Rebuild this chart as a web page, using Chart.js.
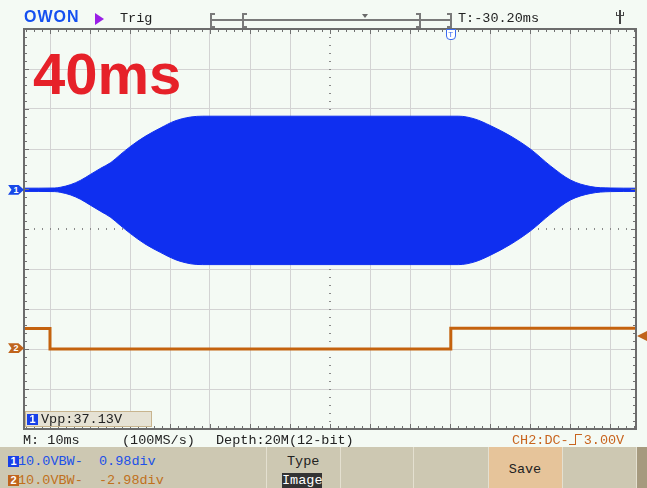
<!DOCTYPE html>
<html>
<head>
<meta charset="utf-8">
<title>Scope capture</title>
<script src="https://cdn.jsdelivr.net/npm/chart.js@4.4.0/dist/chart.umd.min.js"></script>
<style>
  body { margin: 0; background: #f4faf4; }
  #screen { position: relative; width: 647px; height: 488px; overflow: hidden; background: #f4faf4;
            font-family: "Liberation Mono", "DejaVu Sans Mono", monospace; }
  #scope { position: absolute; left: 0; top: 0; }
  .txt { position: absolute; white-space: pre; font-size: 13.5px; line-height: 14px; color: #222; }
  .big { position: absolute; left: 33px; top: 45px; font: bold 58px/58px "Liberation Sans", Arial, sans-serif; color: #e62129; }
  .logo { position: absolute; left: 24px; top: 9px; font: bold 16px/16px "Liberation Sans", Arial, sans-serif; color: #1550f0; letter-spacing: 1px; }
  .runTri { position: absolute; left: 95px; top: 13px; width: 0; height: 0;
            border-top: 6px solid transparent; border-bottom: 6px solid transparent; border-left: 9px solid #9a1ee6; }
  .tl { position: absolute; left: 211px; top: 19px; width: 240px; height: 2px; background: #7a7a7a; }
  .br { position: absolute; top: 13px; width: 3px; height: 11px; border: 2px solid #7a7a7a; }
  .br.l { border-right: none; }
  .br.r { border-left: none; }
  .pos { position: absolute; left: 362px; top: 14px; width: 0; height: 0;
         border-left: 3px solid transparent; border-right: 3px solid transparent; border-top: 4px solid #6a6a6a; }
  .usb { position: absolute; left: 619px; top: 10px; width: 2px; height: 14px; background: #444; }
  .usb::before { content: ""; position: absolute; left: -3px; top: 2px; width: 8px; height: 4px; border: 1px solid #444; border-top: none; box-sizing: border-box; }
  .trigT { position: absolute; top: 29px; width: 8px; height: 9px; background: #fff; border: 1px solid #3a6af0;
           border-radius: 0 0 4px 4px; font: 8px/9px "Liberation Sans", Arial, sans-serif; color: #3a6af0; text-align: center; }
  .mk { position: absolute; left: 8px; width: 16px; height: 10px; color: #fff;
        font: bold 9px/10px "Liberation Sans", Arial, sans-serif; text-align: center; }
  .mk1 { background: #1848e8; clip-path: polygon(0 0, 65% 0, 100% 50%, 65% 100%, 0 100%, 22% 50%); }
  .mk2 { background: #c0641c; clip-path: polygon(0 0, 65% 0, 100% 50%, 65% 100%, 0 100%, 22% 50%); }
  .trigLvl { position: absolute; left: 637px; width: 0; height: 0;
             border-top: 5px solid transparent; border-bottom: 5px solid transparent; border-right: 10px solid #c0641c; }
  .vpp { position: absolute; left: 25px; top: 411px; width: 127px; height: 16px; background: #e6e2d4;
         border: 1px solid #c8b48e; box-sizing: border-box; }
  .num { position: absolute; width: 11px; height: 11px; color: #fff; text-align: center;
         font: bold 11px/11px "Liberation Sans", Arial, sans-serif; }
  .edge { display: inline-block; position: relative; width: 15px; height: 11px; vertical-align: -1px; }
  .edge::before { content: ""; position: absolute; left: 0; bottom: 0; width: 6px; height: 0; border-bottom: 1px solid #c8641e; }
  .edge::after { content: ""; position: absolute; left: 6px; top: 0; width: 6px; height: 10px; border-left: 1px solid #c8641e; border-top: 1px solid #c8641e; }
  .panel { position: absolute; top: 447px; height: 41px; background: #cdc8b2; }
  .sep { position: absolute; top: 447px; width: 1px; height: 41px; background: #e4e0d0; }
</style>
</head>
<body>
<div id="screen">
  <canvas id="scope" width="647" height="488"></canvas>

  <div class="logo">OWON</div>
  <div class="runTri"></div>
  <div class="txt" style="left:120px; top:12px;">Trig</div>
  <div class="tl"></div>
  <div class="br l" style="left:210px;"></div>
  <div class="br l" style="left:242px;"></div>
  <div class="br r" style="left:416px;"></div>
  <div class="br r" style="left:447px;"></div>
  <div class="pos"></div>
  <div class="txt" style="left:458px; top:12px;">T:-30.20ms</div>
  <div class="usb"></div>
  <div class="trigT" id="trigT">T</div>

  <div class="big">40ms</div>

  <div class="mk mk1" id="mark1">1</div>
  <div class="mk mk2" id="mark2">2</div>
  <div class="trigLvl" id="trigLvl"></div>

  <div class="vpp"></div>
  <div class="num" style="left:27px; top:414px; background:#1840e8;">1</div>
  <div class="txt" style="left:41px; top:413px;">Vpp:37.13V</div>

  <div class="txt" style="left:23px; top:434px;">M: 10ms</div>
  <div class="txt" style="left:122px; top:434px;">(100MS/s)</div>
  <div class="txt" style="left:216px; top:434px;">Depth:20M(12-bit)</div>
  <div class="txt" style="left:512px; top:434px; color:#c8641e;">CH2:DC-<span class="edge"></span>3.00V</div>

  <div class="panel" style="left:0; width:266px;"></div>
  <div class="panel" style="left:266px; width:222px;"></div>
  <div class="panel" style="left:488px; width:74px; background:#e6c49a;"></div>
  <div class="panel" style="left:562px; width:74px;"></div>
  <div class="panel" style="left:636px; width:11px; background:#a69a7e;"></div>
  <div class="sep" style="left:266px;"></div>
  <div class="sep" style="left:340px;"></div>
  <div class="sep" style="left:413px;"></div>
  <div class="sep" style="left:488px;"></div>
  <div class="sep" style="left:562px;"></div>
  <div class="sep" style="left:636px;"></div>

  <div class="num" style="left:8px; top:456px; background:#1840e8;">1</div>
  <div class="txt" style="left:18px; top:455px; color:#2050e8;">10.0VBW-  0.98div</div>
  <div class="num" style="left:8px; top:475px; background:#c0641c;">2</div>
  <div class="txt" style="left:18px; top:474px; color:#c0701c;">10.0VBW-  -2.98div</div>

  <div class="txt" style="left:287px; top:455px;">Type</div>
  <div class="txt" style="left:282px; top:473px; width:40px; height:15px; background:#333; color:#fff; text-align:center; line-height:15px;">Image</div>
  <div class="txt" style="left:488px; top:463px; width:74px; text-align:center;">Save</div>
</div>

<script>
// timebase / channel setup
const msPerDiv = 10;
const centerTime = -30.2;          // T:-30.20ms
const halfDivs = 7.65;             // screen is 15.3 divisions wide
const voltsPerDiv = 10;
const ch1Offset = 0.98;            // divisions
const ch2Offset = -2.98;
const triggerLevel = 3.0;

// CH1 burst envelope (ms, volts)
const ch1Time  = [-107, -99, -97.5, -95, -92.5, -90, -87.5, -85, -82.5, -80, -76.5, -72.5, -69, -65, -62,
                  2, 6, 10, 15, 20, 25, 30, 35, 40, 46.5];
const ch1Upper = [0.4, 0.45, 0.65, 1.3, 2.4, 3.9, 5.4, 6.8, 8.9, 10.9, 13.3, 15.5, 17.2, 18.2, 18.4,
                  18.4, 17.7, 16.0, 13.4, 10.1, 5.9, 2.4, 0.8, 0.45, 0.4];
const ch1Lower = [-0.4, -0.45, -0.65, -1.3, -2.4, -3.9, -5.4, -6.9, -9.0, -11.0, -13.5, -15.7, -17.4, -18.5, -18.7,
                  -18.7, -18.0, -16.3, -13.6, -10.2, -6.0, -2.5, -0.9, -0.45, -0.4];

// CH2 gate signal (ms, volts), edges as repeated times
const ch2Time  = [-107, -100.2, -100.2, 0, 0, 46.5];
const ch2Volts = [4.9, 4.9, -0.2, -0.2, 5.0, 5.0];

const xMin = centerTime - halfDivs * msPerDiv;
const xMax = centerTime + halfDivs * msPerDiv;

const pts = (xs, ys) => xs.map((x, i) => ({ x: x, y: ys[i] }));
const blue = '#0f2ff0';
const orange = '#c4620e';

const scopeFrame = {
  id: 'scopeFrame',
  beforeDatasetsDraw(chart) {
    // dotted center cross
    const { ctx, chartArea: a, scales } = chart;
    const cx = Math.round(scales.x.getPixelForValue(centerTime));
    const cy = Math.round(scales.y.getPixelForValue(0));
    const step = (scales.y.getPixelForValue(0) - scales.y.getPixelForValue(1)) / 5;
    ctx.save();
    ctx.fillStyle = '#8a8a8a';
    for (let i = -40; i <= 40; i++) {
      const y = Math.round(cy + i * step);
      if (y > a.top + 3 && y < a.bottom - 3) ctx.fillRect(cx - 1, y, 2, 1);
      const x = Math.round(cx + i * step);
      if (x > a.left + 3 && x < a.right - 3) ctx.fillRect(x, cy - 1, 1, 2);
    }
    ctx.restore();
  },
  afterDatasetsDraw(chart) {
    // outer frame with ruler ticks every 1/5 division
    const { ctx, chartArea: a, scales } = chart;
    const cx = scales.x.getPixelForValue(centerTime);
    const cy = scales.y.getPixelForValue(0);
    const step = (scales.y.getPixelForValue(0) - scales.y.getPixelForValue(1)) / 5;
    ctx.save();
    ctx.fillStyle = '#707070';
    for (let i = -40; i <= 40; i++) {
      const len = i % 5 === 0 ? 5 : 3;
      const x = Math.round(cx + i * step);
      if (x > a.left + 1 && x < a.right - 1) {
        ctx.fillRect(x, a.top, 1, len);
        ctx.fillRect(x, a.bottom - len, 1, len);
      }
      const y = Math.round(cy + i * step);
      if (y > a.top + 1 && y < a.bottom - 1) {
        ctx.fillRect(a.left, y, len, 1);
        ctx.fillRect(a.right - len, y, len, 1);
      }
    }
    ctx.strokeStyle = '#6c6c6c';
    ctx.lineWidth = 2;
    ctx.strokeRect(a.left, a.top, a.right - a.left, a.bottom - a.top);
    ctx.restore();
  },
  afterRender(chart) {
    const s = chart.scales;
    document.getElementById('mark1').style.top = (s.y1.getPixelForValue(0) - 5) + 'px';
    document.getElementById('mark2').style.top = (s.y2.getPixelForValue(0) - 5) + 'px';
    document.getElementById('trigLvl').style.top = (s.y2.getPixelForValue(triggerLevel) - 5) + 'px';
    document.getElementById('trigT').style.left = (s.x.getPixelForValue(0) - 5) + 'px';
  }
};

new Chart(document.getElementById('scope'), {
  type: 'line',
  data: {
    datasets: [
      {
        label: 'CH1 upper',
        data: pts(ch1Time, ch1Upper),
        yAxisID: 'y1',
        borderColor: blue,
        backgroundColor: blue,
        borderWidth: 1,
        pointRadius: 0,
        cubicInterpolationMode: 'monotone',
        fill: '+1'
      },
      {
        label: 'CH1 lower',
        data: pts(ch1Time, ch1Lower),
        yAxisID: 'y1',
        borderColor: blue,
        borderWidth: 1,
        pointRadius: 0,
        cubicInterpolationMode: 'monotone',
        fill: false
      },
      {
        label: 'CH2',
        data: pts(ch2Time, ch2Volts),
        yAxisID: 'y2',
        borderColor: orange,
        borderWidth: 3,
        pointRadius: 0,
        fill: false
      }
    ]
  },
  options: {
    responsive: false,
    animation: false,
    devicePixelRatio: 1,
    layout: { padding: { left: 24, top: 29, right: 11, bottom: 59 } },
    plugins: { legend: { display: false }, tooltip: { enabled: false } },
    scales: {
      x: {
        type: 'linear',
        min: xMin,
        max: xMax,
        afterBuildTicks: scale => {
          const ticks = [];
          for (let k = -8; k <= 8; k++) {
            const v = centerTime + k * msPerDiv;
            if (v > xMin && v < xMax) ticks.push({ value: v });
          }
          scale.ticks = ticks;
        },
        ticks: { display: false },
        grid: {
          drawTicks: false,
          lineWidth: 1,
          color: c => Math.abs(c.tick.value - centerTime) < 0.01 ? 'rgba(0,0,0,0)' : '#d3d3d3'
        },
        border: { display: false }
      },
      y: {
        min: -5,
        max: 5,
        ticks: { display: false, stepSize: 1 },
        grid: {
          drawTicks: false,
          lineWidth: 1,
          color: c => (c.tick.value === 0 || Math.abs(c.tick.value) === 5) ? 'rgba(0,0,0,0)' : '#d3d3d3'
        },
        border: { display: false }
      },
      y1: {
        display: false,
        min: (-5 - ch1Offset) * voltsPerDiv,
        max: (5 - ch1Offset) * voltsPerDiv
      },
      y2: {
        display: false,
        min: (-5 - ch2Offset) * voltsPerDiv,
        max: (5 - ch2Offset) * voltsPerDiv
      }
    }
  },
  plugins: [scopeFrame]
});
</script>
</body>
</html>
